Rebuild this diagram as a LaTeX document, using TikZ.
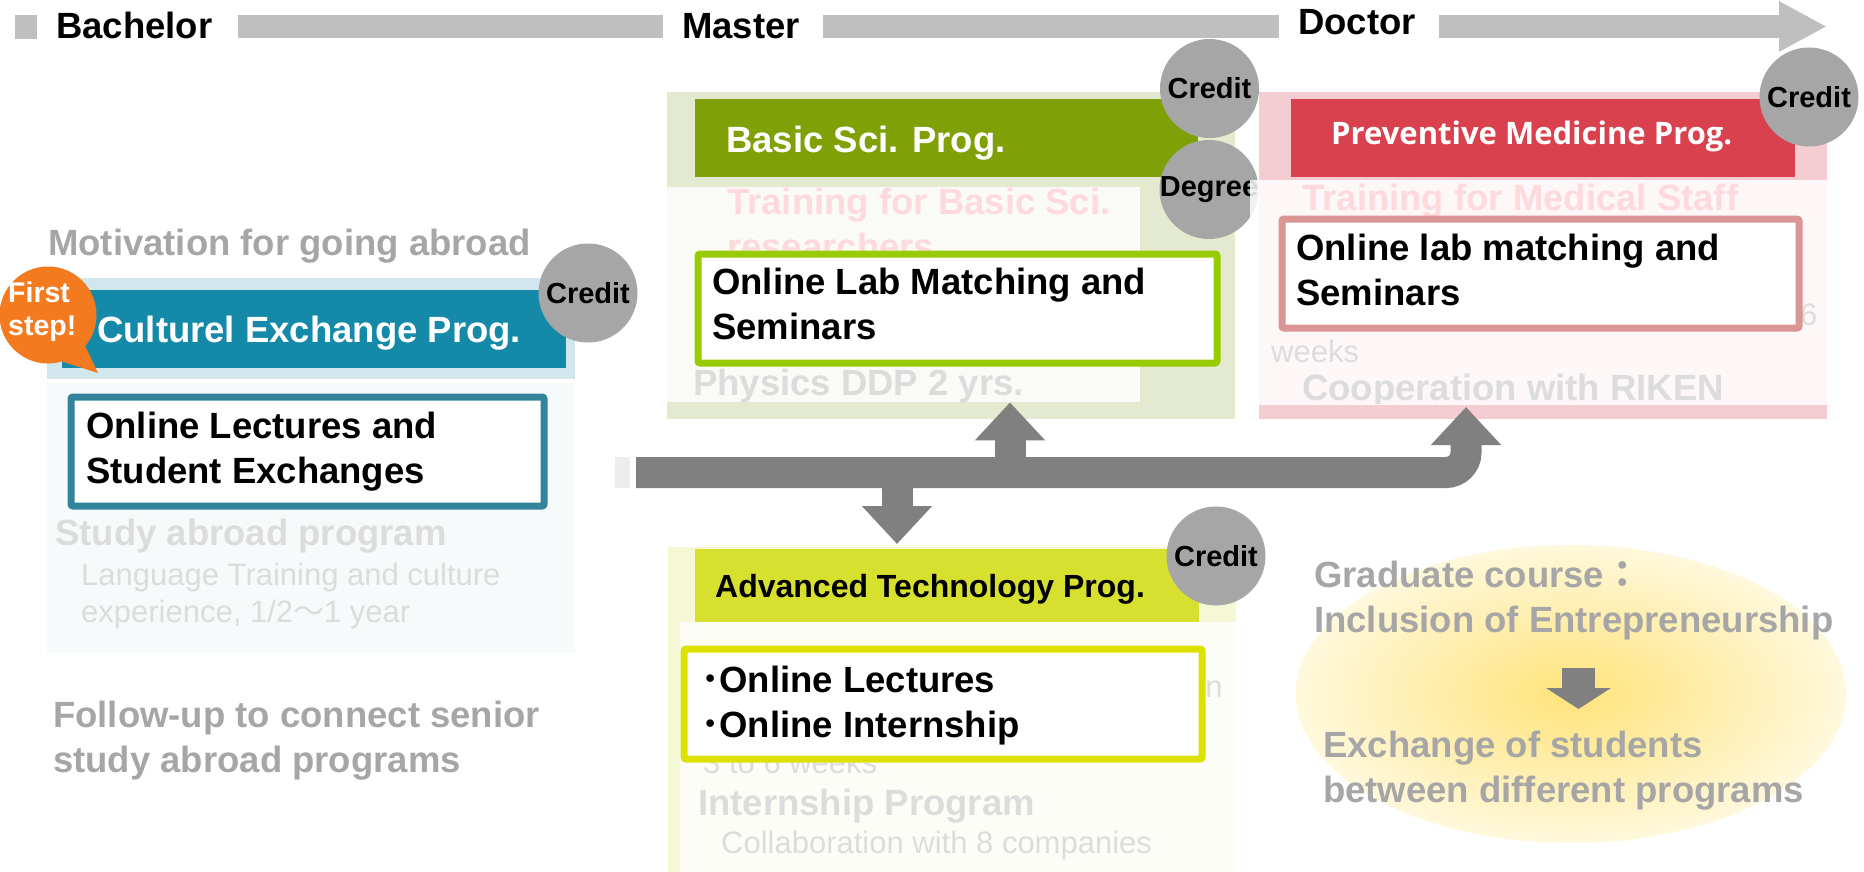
\documentclass[tikz,border=0pt]{standalone}
\usepackage{fontspec}
\setmainfont{Liberation Sans}
\newfontfamily\medfont{Open Sans}
\newfontfamily\cjk{Noto Sans CJK JP}
\usetikzlibrary{arrows.meta,positioning}

\definecolor{barGray}{HTML}{BFBFBF}
\definecolor{circGray}{HTML}{A6A6A6}
\definecolor{arrowGray}{HTML}{808080}
\definecolor{textGray}{HTML}{A6A6A6}
\definecolor{fadeGray}{HTML}{DCDCDC}
\definecolor{fadePink}{HTML}{FFD9DC}
\definecolor{greenBg}{HTML}{E3EACF}
\definecolor{greenHead}{HTML}{7FA006}
\definecolor{limeLine}{HTML}{99CC00}
\definecolor{pinkBg}{HTML}{F3CDD1}
\definecolor{redHead}{HTML}{D9414F}
\definecolor{roseLine}{HTML}{DA9694}
\definecolor{blueBg}{HTML}{D1E7ED}
\definecolor{bluePale}{HTML}{F6FAFB}
\definecolor{tealHead}{HTML}{158AA8}
\definecolor{tealLine}{HTML}{31849B}
\definecolor{yellowBg}{HTML}{F5F7D5}
\definecolor{yellowHead}{HTML}{D7DF2F}
\definecolor{yellowLine}{HTML}{DEE100}
\definecolor{orangeBub}{HTML}{F47A20}
\definecolor{glowYellow}{HTML}{FFE37A}
\definecolor{glowEdge}{HTML}{FFF8DC}

% multi-line texts are placed at the baseline of their last line
\tikzset{
  stage/.style={anchor=base west, inner sep=0, font=\fontsize{36.5}{45}\selectfont\bfseries},
  bold/.style={anchor=base west, inner sep=0, align=left, font=\fontsize{36.5}{44.5}\selectfont\bfseries},
  thin/.style={anchor=base west, inner sep=0, align=left, font=\fontsize{31}{37}\selectfont},
  bg/.style={rectangle, fill=#1, inner sep=0, anchor=north west},
  panel/.style={rectangle, fill=white, fill opacity=.85, inner sep=0, anchor=north west},
  online/.style={rectangle, draw=#1, line width=7pt, fill=white, rounded corners=2pt, inner sep=0, anchor=north west},
  credit/.style={circle, fill=circGray, minimum size=99pt, inner sep=0, font=\fontsize{29}{29}\selectfont\bfseries},
  bigarrow/.style={draw=arrowGray, line width=31pt, -{Triangle[length=38pt,width=68pt]}},
}

\begin{document}
\begin{tikzpicture}[x=1pt,y=-1pt]
\useasboundingbox (0,0) rectangle (1864,872);

%time line
\fill[barGray] (15,15) rectangle (37,39);
\node[stage] (bach) at (56,39) {Bachelor};
\fill[barGray] (238,15) rectangle (663,38);
\node[stage] (mast) at (682,39) {Master};
\fill[barGray] (823,15) rectangle (1279,38);
\node[stage] (doct) at (1298,35) {Doctor};
\draw[barGray, line width=23pt, -{Triangle[length=48pt,width=47pt]}] (1439,26.5) -- (1827,26.5);

%bachelor
\node[bold, text=textGray] (motiv) at (48,255) {Motivation for going abroad};
\node[bg=blueBg, minimum width=528pt, minimum height=101pt] (cultBg) at (47,278) {};
\node[bg=tealHead, minimum width=504pt, minimum height=78pt] (cultHead) at (62,290) {};
\node[bold, text=white] (cultTitle) at (97,342) {Culturel Exchange Prog.};
\node[credit] (crCult) at (588,293) {Credit};
\node[bg=bluePale, minimum width=528pt, minimum height=270pt] (cultPanel) at (47,383) {};
\node[online=tealLine, minimum width=473pt, minimum height=109pt] (cultBox) at (67.5,393.5) {};
\node[bold] (cultText) at (86,483) {Online Lectures and\\Student Exchanges};
\node[bold, text=fadeGray] (abroad) at (55,545) {Study abroad program};
\node[thin, text=fadeGray] (lang) at (81,622) {Language Training and culture\\experience, 1/2{\cjk ～}1 year};
\node[bold, text=textGray] (follow) at (53,772) {Follow-up to connect senior\\study abroad programs};

%first step
\node[circle, fill=orangeBub, minimum size=97pt, inner sep=0] (firstStep) at (48,315) {};
\fill[orangeBub] (firstStep.-40) -- (98,373) -- (firstStep.-73) -- cycle;
\node[anchor=base west, inner sep=0, align=left, text=white, font=\fontsize{28.5}{33}\selectfont\bfseries] (firstText) at (8,335) {First\\step!};

%master, basic sci.
\node[bg=greenBg, minimum width=568pt, minimum height=327pt] (basicBg) at (667,92) {};
\node[bg=greenHead, minimum width=503pt, minimum height=78pt] (basicHead) at (695,99) {};
\node[bold, text=white] (basicTitle) at (726,153) {Basic Sci. Prog.};
\node[panel, minimum width=473pt, minimum height=215pt] (basicPanel) at (667,187) {};
\node[bold, text=fadePink] (basicTrain) at (727,259) {Training for Basic Sci.\\researchers};
\begin{scope}
  \clip (667,187) rectangle (1140,402);
  \node[bold, text=fadeGray] (ddp) at (693,395) {Physics DDP 2 yrs.};
\end{scope}
\node[online=limeLine, minimum width=519pt, minimum height=109pt] (basicBox) at (694.5,250.5) {};
\node[bold] (basicText) at (712,339) {Online Lab Matching and\\Seminars};
\node[credit] (crBasic) at (1209.5,88.5) {Credit};
\node[credit, label={[font=\fontsize{29}{29}\selectfont\bfseries]center:Degree}] (degBasic) at (1209,189.5) {};

%doctor, preventive medicine
\node[bg=pinkBg, minimum width=568pt, minimum height=327pt] (prevBg) at (1259,92) {};
\node[bg=redHead, minimum width=504pt, minimum height=78pt] (prevHead) at (1291,99) {};
\node[anchor=base west, inner sep=0, text=white, font=\medfont\fontsize{31}{31}\selectfont\bfseries] (prevTitle) at (1331,145) {Preventive Medicine Prog.};
\node[panel, minimum width=577pt, minimum height=225pt] (prevPanel) at (1250,180) {};
\node[bold, text=fadePink] (prevTrain) at (1302,210) {Training for Medical Staff};
\node[thin, text=fadeGray] (six) at (1800,325) {6};
\node[thin, text=fadeGray] (weeks) at (1271,362) {weeks};
\begin{scope}
  \clip (1250,180) rectangle (1827,403);
  \node[bold, text=fadeGray] (riken) at (1302,400) {Cooperation with RIKEN};
\end{scope}
\node[online=roseLine, minimum width=517pt, minimum height=109pt] (prevBox) at (1278.5,215.5) {};
\node[bold] (prevText) at (1296,305) {Online lab matching and\\Seminars};
\node[credit] (crPrev) at (1809,97) {Credit};

%advanced technology
\node[bg=yellowBg, minimum width=568pt, minimum height=325pt] (advBg) at (668,547) {};
\node[bg=yellowHead, minimum width=504pt, minimum height=73pt] (advHead) at (695,549) {};
\node[anchor=base west, inner sep=0, font=\fontsize{32}{32}\selectfont\bfseries] (advTitle) at (715,597) {Advanced Technology Prog.};
\node[panel, minimum width=556pt, minimum height=250pt] (advPanel) at (680,622) {};
\node[thin, text=fadeGray] (advOn) at (1188,697) {on};
\node[thin, text=fadeGray] (advWeeks) at (703,773) {3 to 6 weeks};
\node[online=yellowLine, minimum width=518pt, minimum height=110pt] (advBox) at (680.5,645.5) {};
\node[bold] (advText) at (701,737) {{\cjk ･}Online Lectures\\{\cjk ･}Online Internship};
\node[bold, text=fadeGray] (intern) at (698,815) {Internship Program};
\node[thin, text=fadeGray] (collab) at (721,853) {Collaboration with 8 companies};
\node[credit] (crAdv) at (1216,556) {Credit};

%central arrows
\fill[black!7] (615,457) rectangle (630,488);
\coordinate (busStart) at (636,472.5);
\coordinate (upBasic) at (1010,472.5);
\coordinate (downAdv) at (897,472.5);
\coordinate (upPrev) at (1466,407);
\draw[bigarrow, rounded corners=20pt] (busStart) -- (busStart -| upPrev) -- (upPrev);
\draw[bigarrow] (upBasic) -- (upBasic |- basicPanel.south);
\draw[bigarrow] (downAdv) -- (897,544);

%graduate course
\shade[inner color=glowYellow, outer color=glowEdge] (1571,694) ellipse [x radius=275, y radius=149];
\node[bold, text=textGray] (grad) at (1314,632) {Graduate course{\cjk ：}\\Inclusion of Entrepreneurship};
\coordinate (gradArrow) at (1578.5,668);
\draw[draw=arrowGray, line width=33pt, -{Triangle[length=21pt,width=64pt]}] (gradArrow) -- (1578.5,709);
\node[bold, text=textGray] (exch) at (1323,802) {Exchange of students\\between different programs};
\end{tikzpicture}
\end{document}
